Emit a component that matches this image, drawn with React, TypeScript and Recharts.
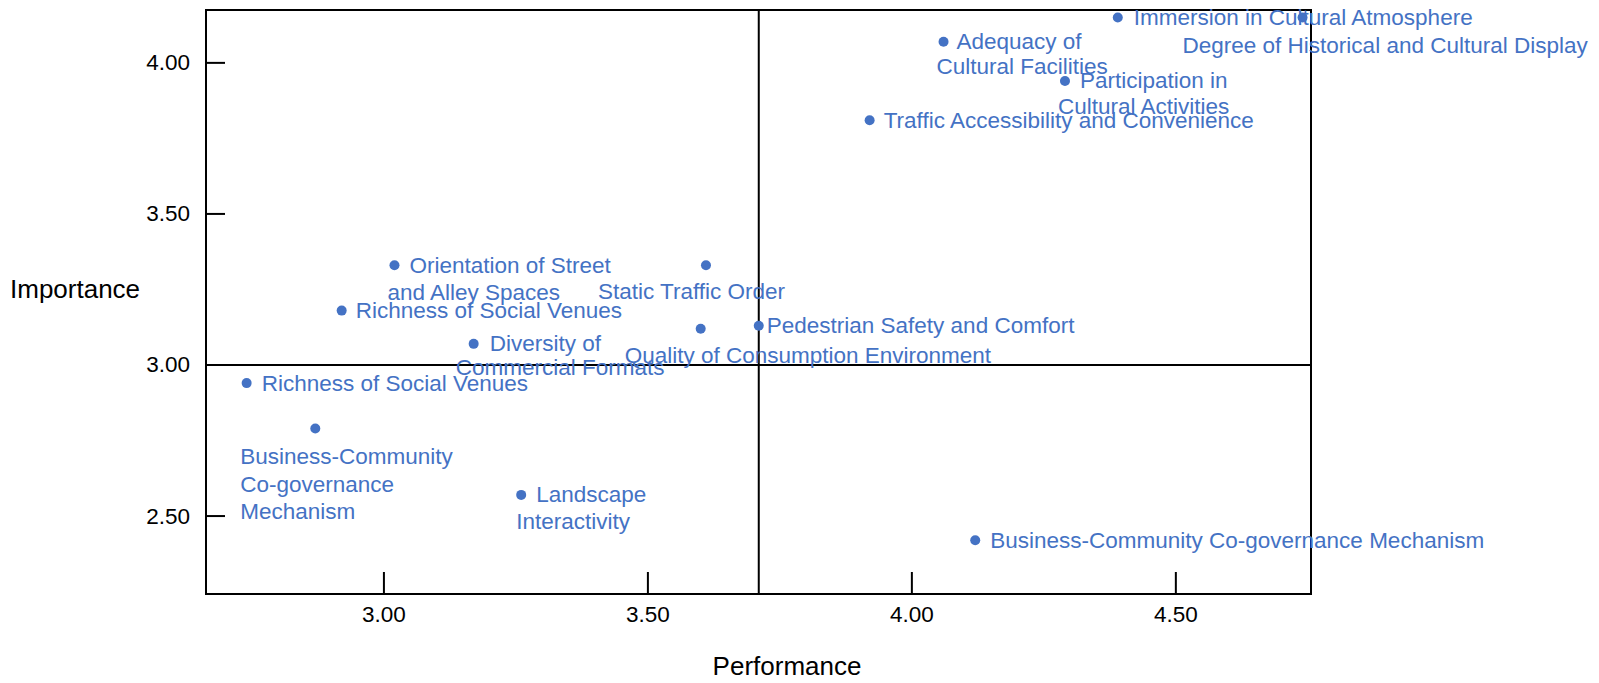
import React from 'react';
import { ScatterChart, Scatter, XAxis, YAxis, ReferenceLine, ReferenceArea, Customized } from 'recharts';

// ---- data ----
const LABELS: string[][] = [
  ['Immersion in Cultural Atmosphere'],
  ['Degree of Historical and Cultural Display'],
  ['Adequacy of', 'Cultural Facilities'],
  ['Participation in', 'Cultural Activities'],
  ['Traffic Accessibility and Convenience'],
  ['Orientation of Street', 'and Alley Spaces'],
  ['Static Traffic Order'],
  ['Richness of Social Venues'],
  ['Diversity of', 'Commercial Formats'],
  ['Quality of Consumption Environment'],
  ['Pedestrian Safety and Comfort'],
  ['Richness of Social Venues'],
  ['Business-Community', 'Co-governance', 'Mechanism'],
  ['Landscape', 'Interactivity'],
  ['Business-Community Co-governance Mechanism'],
];
const PERFORMANCE = [4.39, 4.74, 4.06, 4.29, 3.92, 3.02, 3.61, 2.92, 3.17, 3.6, 3.71, 2.74, 2.87, 3.26, 4.12];
const IMPORTANCE = [4.15, 4.15, 4.07, 3.94, 3.81, 3.33, 3.33, 3.18, 3.07, 3.12, 3.13, 2.94, 2.79, 2.57, 2.42];
const X_TICKS = [3.0, 3.5, 4.0, 4.5];
const Y_TICKS = [2.5, 3.0, 3.5, 4.0];
const X_DOMAIN = [2.663, 4.756];
const Y_DOMAIN = [2.242, 4.175];
const X_MEAN = 3.71;
const Y_MEAN = 3.0;

// ---- label layout (offsets of each text line relative to the dot) ----
const LABEL_OFFSETS: number[][][] = [
  [[16, 0]],
  [[-120, 28]],
  [[13, 0], [-7, 25]],
  [[15, 0], [-7, 26]],
  [[14, 0]],
  [[15, 0], [-7, 27]],
  [[-108, 26]],
  [[14, 0]],
  [[16, 0], [-18, 24]],
  [[-76, 27]],
  [[8, 0]],
  [[15, 0]],
  [[-75, 28], [-75, 56], [-75, 83]],
  [[15, 0], [-5, 27]],
  [[15, 0]],
];

const FONT = '"Liberation Sans", Arial, sans-serif';
const BLUE = '#4472C4';

const tableData = PERFORMANCE.map((x, i) => ({ x, y: IMPORTANCE[i], idx: i }));

const DotWithLabel = (props: any) => {
  const { cx, cy, payload } = props;
  if (cx == null || cy == null) return null;
  const i = payload.idx;
  const lines = LABELS[i];
  const offs = LABEL_OFFSETS[i];
  return (
    <g>
      <circle cx={cx} cy={cy} r={5} fill={BLUE} />
      {lines.map((t, k) => (
        <text
          key={k}
          x={cx + offs[k][0]}
          y={cy + offs[k][1]}
          dominantBaseline="central"
          fontSize={22.5}
          fontFamily={FONT}
          fill={BLUE}
        >
          {t}
        </text>
      ))}
    </g>
  );
};

const XTick = (props: any) => {
  const { x, y, payload } = props;
  return (
    <g>
      <line x1={x} x2={x} y1={y} y2={y - 22} stroke="#000" strokeWidth={2} />
      <text x={x} y={y + 20} textAnchor="middle" dominantBaseline="central" fontSize={22.5} fontFamily={FONT} fill="#000">
        {Number(payload.value).toFixed(2)}
      </text>
    </g>
  );
};

const YTick = (props: any) => {
  const { x, y, payload } = props;
  return (
    <g>
      <line x1={x} x2={x + 19} y1={y} y2={y} stroke="#000" strokeWidth={2} />
      <text x={x - 16} y={y} textAnchor="end" dominantBaseline="central" fontSize={22.5} fontFamily={FONT} fill="#000">
        {Number(payload.value).toFixed(2)}
      </text>
    </g>
  );
};

const AxisTitles = () => (
  <g fontFamily={FONT} fontSize={26} fill="#000">
    <text x={10} y={289} dominantBaseline="central">Importance</text>
    <text x={787} y={666} textAnchor="middle" dominantBaseline="central">Performance</text>
  </g>
);

export default function App() {
  return (
    <div style={{ position: 'absolute', left: 0, top: 0, width: 1599, height: 683, background: '#fff' }}>
      <ScatterChart
        width={1599}
        height={683}
        margin={{ top: 10, right: 288, bottom: 0, left: 0 }}
        style={{ overflow: 'visible' }}
      >
        <XAxis
          type="number"
          dataKey="x"
          domain={X_DOMAIN}
          ticks={X_TICKS}
          height={89}
          tickSize={0}
          tickMargin={0}
          axisLine={false}
          tickLine={false}
          tick={(p: any) => <XTick {...p} />}
          interval={0}
        />
        <YAxis
          type="number"
          dataKey="y"
          domain={Y_DOMAIN}
          ticks={Y_TICKS}
          width={206}
          tickSize={0}
          tickMargin={0}
          axisLine={false}
          tickLine={false}
          tick={(p: any) => <YTick {...p} />}
          interval={0}
        />
        <ReferenceArea
          x1={X_DOMAIN[0]}
          x2={X_DOMAIN[1]}
          y1={Y_DOMAIN[0]}
          y2={Y_DOMAIN[1]}
          fill="none"
          fillOpacity={0}
          stroke="#000"
          strokeWidth={2}
        />
        <ReferenceLine x={X_MEAN} stroke="#000" strokeWidth={2} />
        <ReferenceLine y={Y_MEAN} stroke="#000" strokeWidth={2} />
        <Scatter data={tableData} isAnimationActive={false} shape={(p: any) => <DotWithLabel {...p} />} />
        <Customized component={AxisTitles} />
      </ScatterChart>
    </div>
  );
}
